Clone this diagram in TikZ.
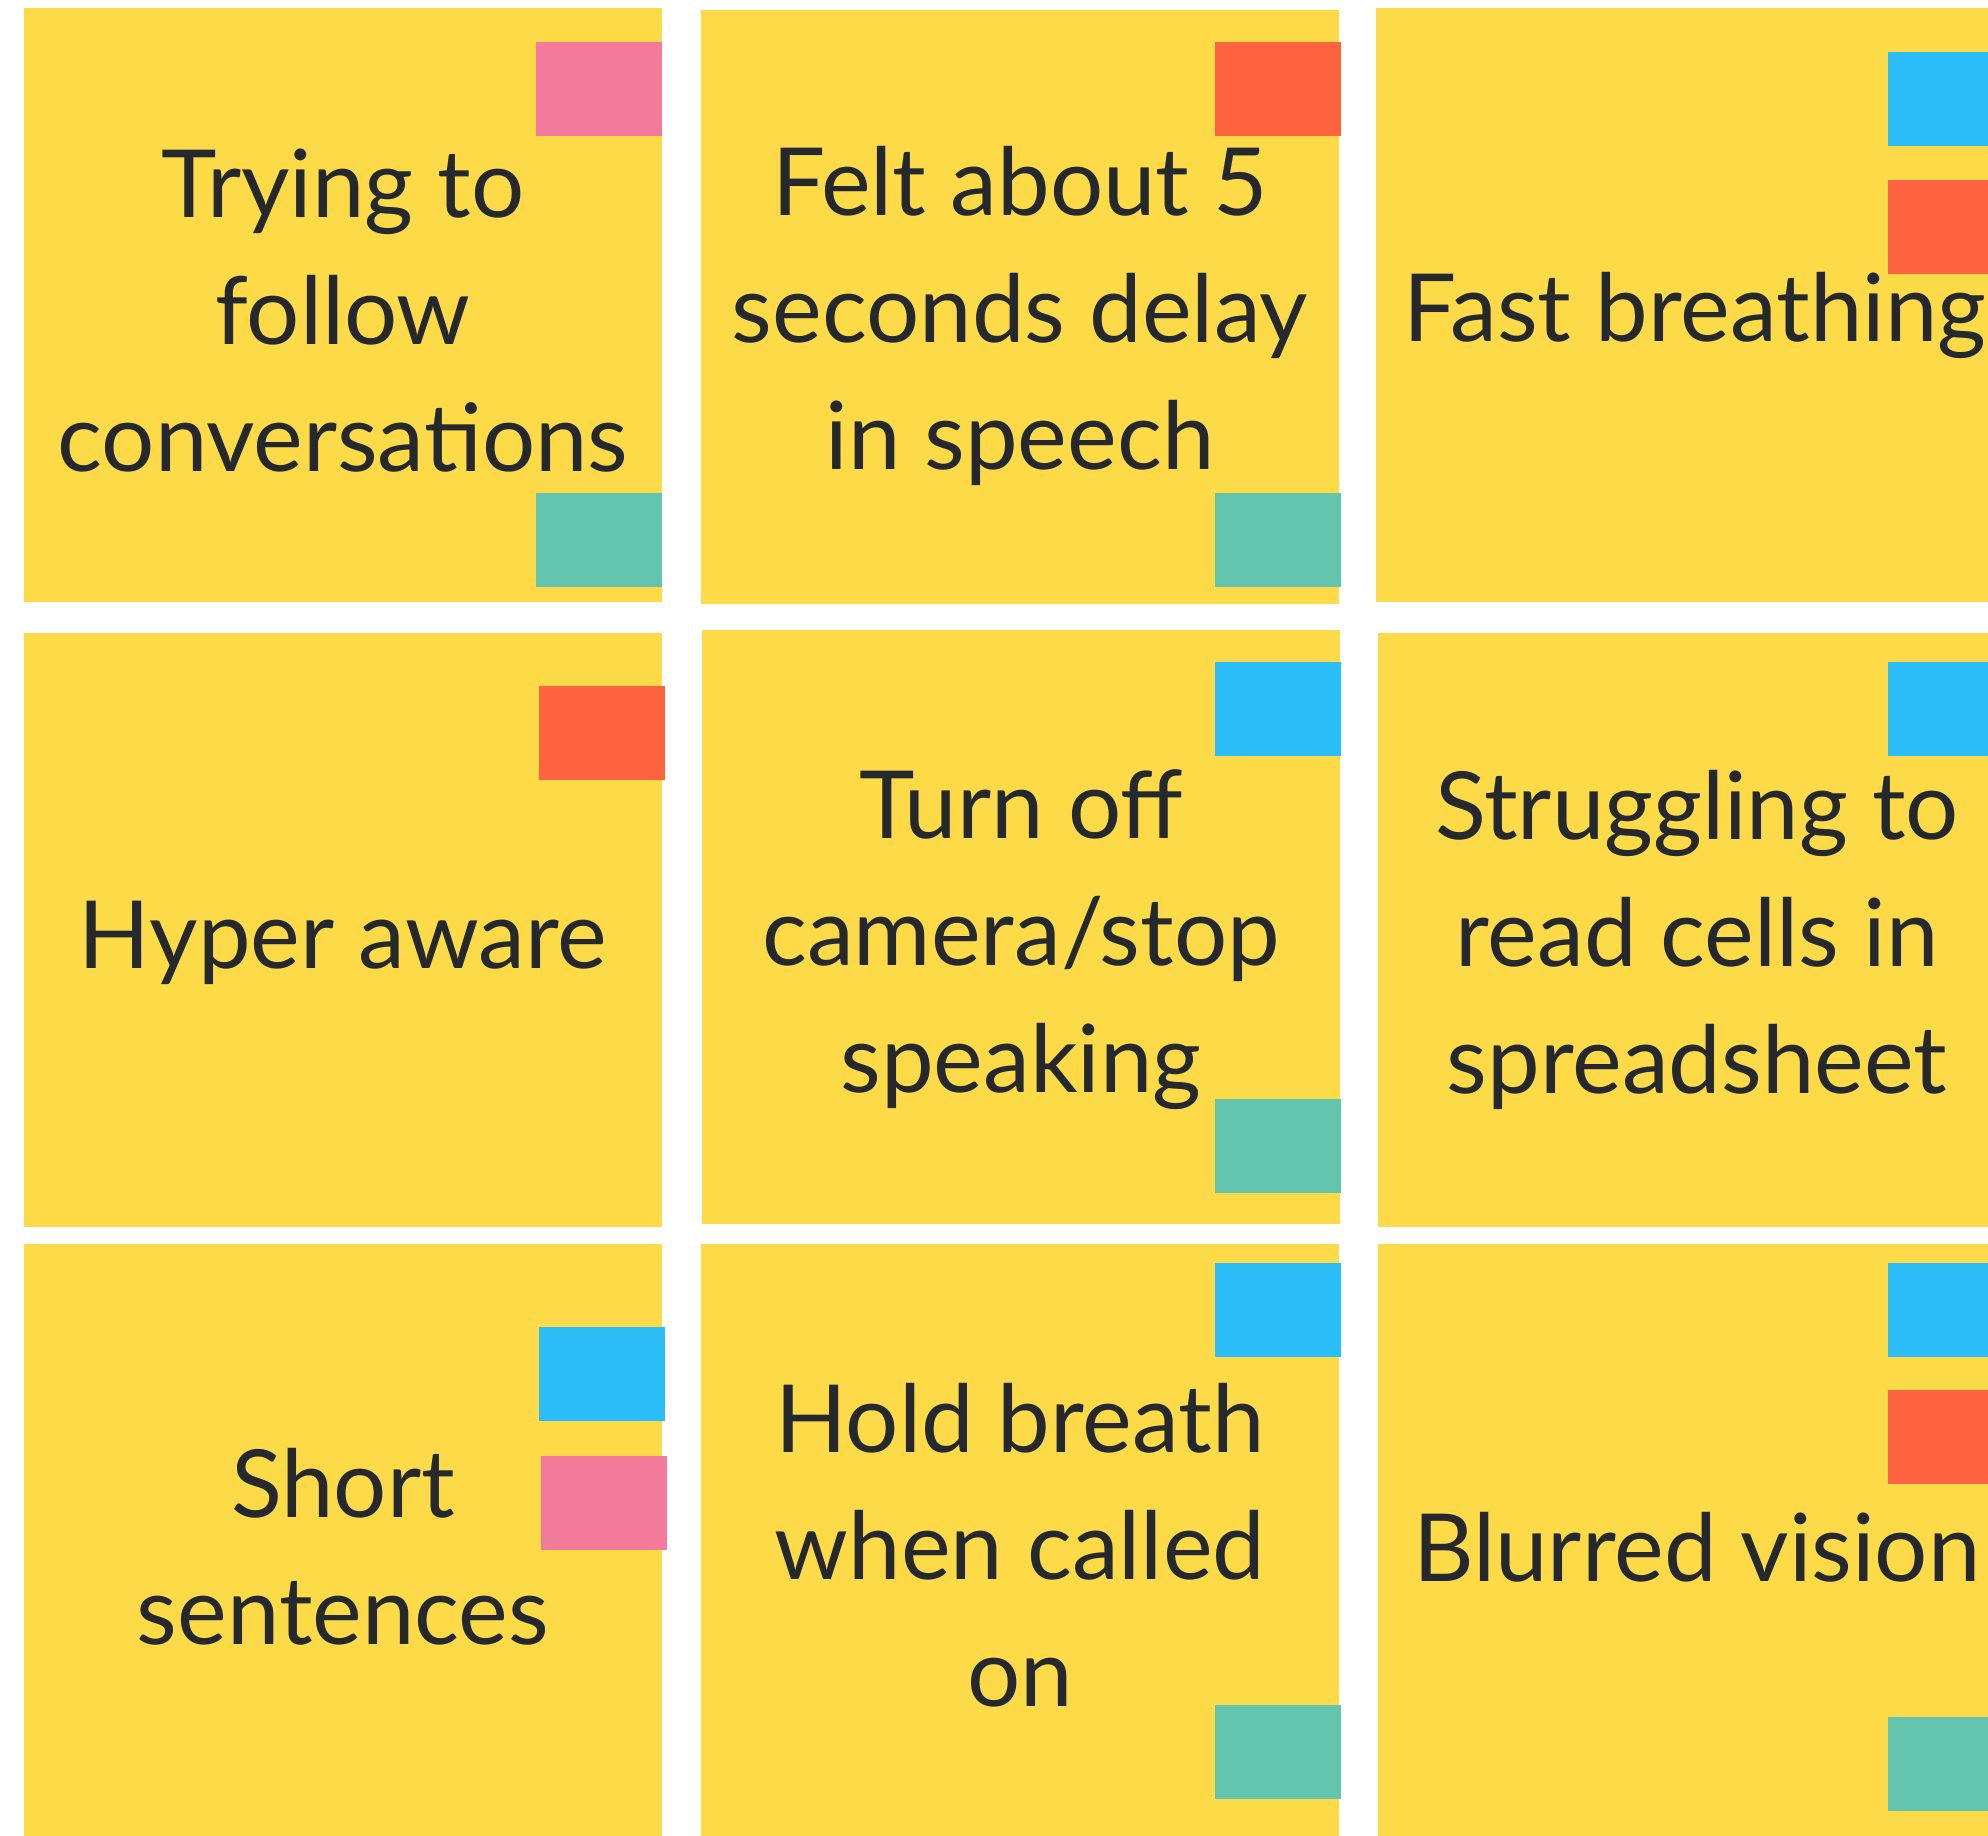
\documentclass[tikz,border=0pt]{standalone}
\usepackage{fontspec}
\setmainfont{Lato}
\usepackage{xcolor}
\usepackage{tikz}
\definecolor{notecol}{HTML}{FDDA48}
\definecolor{ink}{HTML}{25292E}
\definecolor{pinktag}{HTML}{F27B9B}
\definecolor{redtag}{HTML}{FF6340}
\definecolor{tealtag}{HTML}{63C5AE}
\definecolor{bluetag}{HTML}{2BBDF7}

\begin{document}
\begin{tikzpicture}[x=0.5pt,y=-0.5pt, every node/.style={inner sep=0pt,outer sep=0pt},
	note/.style={fill=notecol,minimum width=319pt,minimum height=297pt},
	notetext/.style={align=center,text=ink,font=\fontsize{47}{63.5}\selectfont},
	tag/.style={minimum width=63pt,minimum height=47pt}]
			\path[use as bounding box] (0,0) rectangle (1988,1836);
			\coordinate (c1) at (343,305);
			\coordinate (c2) at (1020,307);
			\coordinate (c3) at (1695,305);
			\coordinate (c4) at (343,930);
			\coordinate (c5) at (1021,927);
			\coordinate (c6) at (1697,930);
			\coordinate (c7) at (343,1541);
			\coordinate (c8) at (1020,1541);
			\coordinate (c9) at (1697,1541);

			\node (n1) at (c1) [note] {};
			\node (n2) at (c2) [note] {};
			\node (n3) at (c3) [note] {};
			\node (n4) at (c4) [note] {};
			\node (n5) at (c5) [note] {};
			\node (n6) at (c6) [note] {};
			\node (n7) at (c7) [note] {};
			\node (n8) at (c8) [note] {};
			\node (n9) at (c9) [note] {};

			\node (l1) at ([yshift=-3pt]n1.center) [notetext] {Trying to\\follow\\conversations};
			\node (l2) at ([yshift=-4.5pt]n2.center) [notetext] {Felt about 5\\seconds delay\\in speech};
			\node (l3) at ([yshift=-5pt]n3.center) [notetext] {Fast breathing};
			\node (l4) at ([yshift=-6.5pt]n4.center) [notetext] {Hyper aware};
			\node (l5) at ([yshift=-6.5pt]n5.center) [notetext] {Turn off\\camera/stop\\speaking};
			\node (l6) at ([yshift=-5pt]n6.center) [notetext] {Struggling to\\read cells in\\spreadsheet};
			\node (l7) at ([yshift=-3pt]n7.center) [notetext] {Short\\sentences};
			\node (l8) at ([yshift=-2pt]n8.center) [notetext] {Hold breath\\when called\\on};
			\node (l9) at ([yshift=-3pt]n9.center) [notetext] {Blurred vision};

			\node (t1a) at (599,89) [tag,fill=pinktag] {};
			\node (t1b) at (599,540) [tag,fill=tealtag] {};
			\node (t2a) at (1278,89) [tag,fill=redtag] {};
			\node (t2b) at (1278,540) [tag,fill=tealtag] {};
			\node (t3a) at (1951,99) [tag,fill=bluetag] {};
			\node (t3b) at (1951,227) [tag,fill=redtag] {};
			\node (t4a) at (602,733) [tag,fill=redtag] {};
			\node (t5a) at (1278,709) [tag,fill=bluetag] {};
			\node (t5b) at (1278,1146) [tag,fill=tealtag] {};
			\node (t6a) at (1951,709) [tag,fill=bluetag] {};
			\node (t7a) at (602,1374) [tag,fill=bluetag] {};
			\node (t7b) at (604,1503) [tag,fill=pinktag] {};
			\node (t8a) at (1278,1310) [tag,fill=bluetag] {};
			\node (t8b) at (1278,1752) [tag,fill=tealtag] {};
			\node (t9a) at (1951,1310) [tag,fill=bluetag] {};
			\node (t9b) at (1951,1437) [tag,fill=redtag] {};
			\node (t9c) at (1951,1764) [tag,fill=tealtag] {};
		\end{tikzpicture}
\end{document}
